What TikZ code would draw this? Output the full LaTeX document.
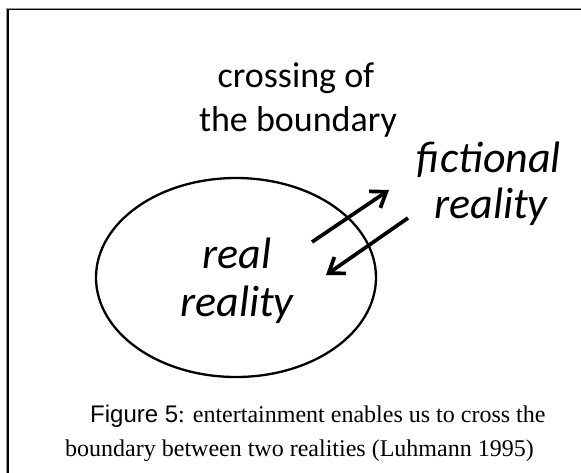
\documentclass[tikz,border=0pt]{standalone}
\usepackage{fontspec}
\setmainfont{Liberation Serif}
\newfontfamily\calib{Carlito}
\newfontfamily\arialf{Liberation Sans}
\usetikzlibrary{arrows.meta,shapes.geometric}
\tikzset{
  lbl/.style={font=\calib\fontsize{36}{42}\selectfont, anchor=base, inner sep=0pt},
  ilbl/.style={font=\calib\itshape\fontsize{44}{50}\selectfont, anchor=base, inner sep=0pt},
  captext/.style={font=\fontsize{24}{28}\selectfont, anchor=base west, inner sep=0pt},
  flow/.style={line width=3.7pt, -{Straight Barb[length=14pt,width=20pt,line width=3.7pt]}},
}
\begin{document}
\begin{tikzpicture}[x=1pt,y=-1pt]
\useasboundingbox (0,0) rectangle (581,472);
\fill[white] (0,0) rectangle (581,472);
% frame (only top and left visible)
\draw[line width=2.5pt, black!40] (7.5,590) -- (7.5,9) -- (700,9);
\draw[line width=1.5pt, black] (8,590) -- (8,9.5) -- (700,9.5);
% labels
\node[lbl] (c1) at (296,87) {crossing of};
\node[lbl] (c2) at (298,131) {the boundary};
\node[ilbl] (f1) at (489,172) {fictional};
\node[ilbl] (f2) at (491,218) {reality};
\node[ilbl] (r1) at (237,268) {real};
\node[ilbl] (r2) at (237,316) {reality};
% ellipse
\node[draw, line width=2.3pt, ellipse, minimum width=280pt, minimum height=199pt, inner sep=0pt] (ell) at (236,277.5) {};
% arrows
\coordinate (a1s) at (312,242);
\coordinate (a1e) at (389,190);
\coordinate (a2s) at (408,218);
\coordinate (a2e) at (326,275);
\draw[flow] (a1s) -- (a1e);
\draw[flow] (a2s) -- (a2e);
% caption
\node[captext] (cap1) at (90,422) {{\arialf Figure 5}: entertainment enables us to cross the};
\node[captext] (cap2) at (65,456) {boundary between two realities (Luhmann 1995)};
\end{tikzpicture}
\end{document}
